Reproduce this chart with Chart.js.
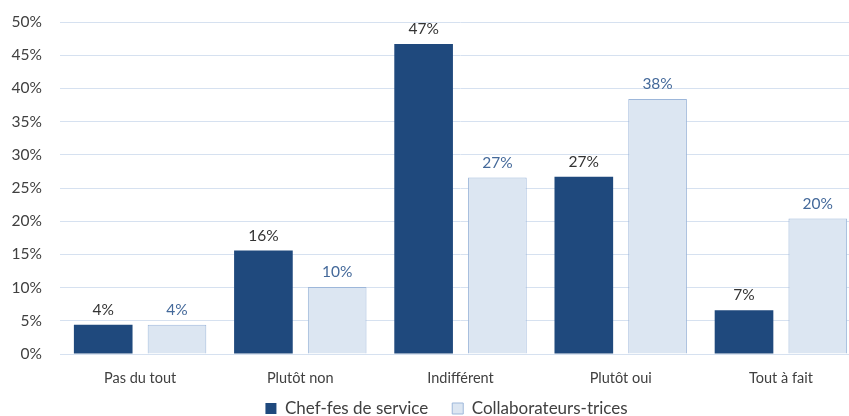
<!DOCTYPE html>
<html><head><meta charset="utf-8">
<script src="https://cdn.jsdelivr.net/npm/chart.js@4/dist/chart.umd.min.js"></script>
<style>html,body{margin:0;padding:0;background:#fff;overflow:hidden;width:849px;height:416px}#wrap{width:882px;height:416px;position:relative}</style>
</head><body><div id="wrap"><canvas id="c" width="882" height="416"></canvas></div>
<script>
const categories = ["Pas du tout", "Plutôt non", "Indifférent", "Plutôt oui", "Tout à fait"];
const seriesNames = ["Chef-fes de service", "Collaborateurs-trices"];
const chefValues = [4.4, 15.6, 46.7, 26.7, 6.6];
const collabValues = [4.4, 10.1, 26.6, 38.4, 20.4];
const yTicks = [0, 5, 10, 15, 20, 25, 30, 35, 40, 45, 50];

const FONT = "Lato, 'Liberation Sans', sans-serif";
const labelPlugin = {
  id: 'valLabels',
  beforeDraw(chart) {
    const lg = chart.legend;
    lg.top = 376; lg.bottom = 416; lg.height = 40;
    lg.left = 11; lg.right = 882; lg.width = 871;
  },
  afterDatasetsDraw(chart) {
    const ctx = chart.ctx;
    ctx.save();
    ctx.font = "15.5px " + FONT;
    ctx.textAlign = 'center';
    ctx.textBaseline = 'bottom';
    chart.data.datasets.forEach((ds, i) => {
      const meta = chart.getDatasetMeta(i);
      ctx.fillStyle = ds.labelColor;
      meta.data.forEach((el, j) => {
        ctx.fillText(Math.round(ds.data[j]) + '%', el.x, el.y - 7);
      });
    });
    ctx.restore();
  }
};

const chart = new Chart(document.getElementById('c'), {
  type: 'bar',
  data: {
    labels: categories,
    datasets: [
      { label: seriesNames[0], data: chefValues, backgroundColor: '#1F497D', borderColor: '#1F497D', borderWidth: 0, labelColor: '#333333' },
      { label: seriesNames[1], data: collabValues, backgroundColor: '#DCE6F2', borderColor: '#9DB7DA', borderWidth: 1, labelColor: '#44699A' }
    ]
  },
  options: {
    responsive: false,
    animation: false,
    layout: { autoPadding: false, padding: { top: 22, right: 21, bottom: 0, left: 0 } },
    datasets: { bar: { categoryPercentage: 0.921, barPercentage: 0.795 } },
    scales: {
      x: {
        grid: { display: false, drawTicks: false },
        border: { display: true, color: '#D6E1F0', width: 1 },
        ticks: { color: '#404040', font: { family: FONT, size: 14.5 }, padding: 16, maxRotation: 0 },
        afterFit(s) { s.height = 38; }
      },
      y: {
        min: 0, max: 50,
        afterBuildTicks(s) { s.ticks = yTicks.map(v => ({ value: v })); },
        afterFit(s) { s.width = 60; s.paddingTop = 0; s.paddingBottom = 0; },
        grid: { color: '#D6E1F0', lineWidth: 1, drawTicks: false },
        border: { display: false },
        ticks: { color: '#404040', font: { family: FONT, size: 15.5 }, padding: 18, callback: v => v + '%' }
      }
    },
    plugins: {
      legend: {
        position: 'bottom',
        labels: {
          color: '#404040', font: { family: FONT, size: 17 },
          boxWidth: 11, boxHeight: 11, padding: 24,
          generateLabels(chart) {
            return chart.data.datasets.map((ds, i) => ({
              text: ds.label, fillStyle: ds.backgroundColor, strokeStyle: ds.borderColor,
              lineWidth: ds.borderWidth, datasetIndex: i, hidden: false, fontColor: '#404040'
            }));
          }
        }
      },
      tooltip: { enabled: false }
    }
  },
  plugins: [labelPlugin]
});
const origFit = chart.legend.fit;
chart.legend.fit = function () { origFit.call(this); this.height = 24; };
chart.update();
</script></body></html>
